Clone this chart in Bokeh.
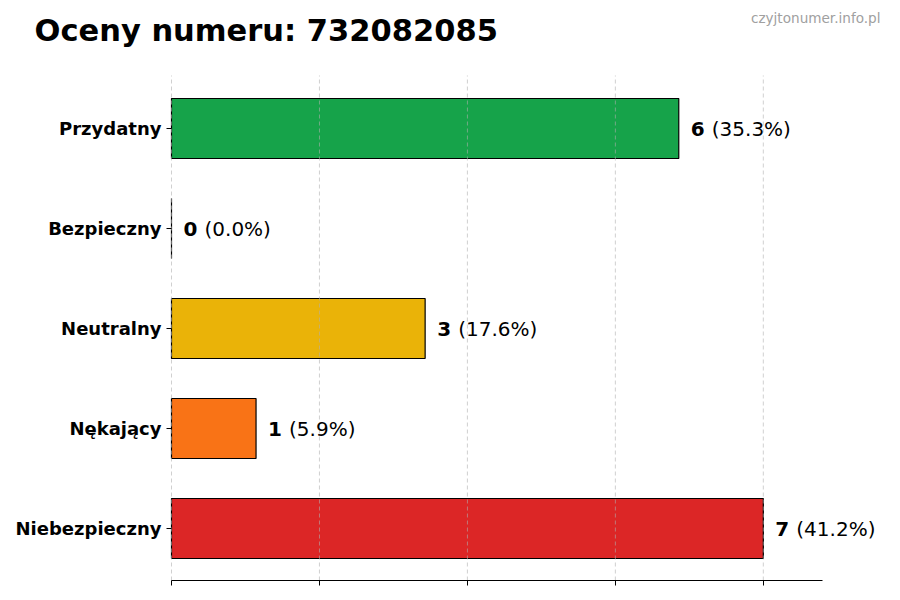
from bokeh.plotting import figure
from bokeh.models import ColumnDataSource, Range1d, FixedTicker, LinearAxis
from bokeh.core.properties import value
from bokeh.embed import file_html
from bokeh.resources import INLINE

categories = ["Niebezpieczny", "Nękający", "Neutralny", "Bezpieczny", "Przydatny"]
counts = [7, 1, 3, 0, 6]
percents = ["(41.2%)", "(5.9%)", "(17.6%)", "(0.0%)", "(35.3%)"]
colors = ["#dc2626", "#f97316", "#eab308", "#22c55e", "#16a34a"]
grid_ticks = [0, 1.75, 3.5, 5.25, 7]
title_text = "Oceny numeru: 732082085"
watermark = "czyjtonumer.info.pl"

W, H = 900, 600
# layout: where the value axis and category axis sit on the canvas
left_px, axis_px, top_px, bottom_px = 171, 651, 75, 580
x_end = max(counts) * 1.1
ppu = axis_px / x_end
y_lo, y_hi = -0.52, len(categories) - 1 + 0.53
ppy = (bottom_px - top_px) / (y_hi - y_lo)

x_range = Range1d(-left_px / ppu, (W - left_px) / ppu)
y_range = Range1d(y_lo - (H - bottom_px) / ppy, y_hi + top_px / ppy)

ypos = list(range(len(categories)))
src = ColumnDataSource(dict(
    y=ypos, right=counts, color=colors,
    num=[str(c) for c in counts], pct=percents,
))

p = figure(width=W, height=H, output_backend="svg", toolbar_location=None,
           x_range=x_range, y_range=y_range, x_axis_location=None, y_axis_location=None,
           min_border=0)
p.outline_line_color = None
p.xgrid.grid_line_color = None
p.ygrid.grid_line_color = None

p.hbar(y="y", left=0, right="right", height=0.6, source=src,
       fill_color="color", line_color="black", line_width=1.2)

# dashed vertical grid lines over the bars, within the axis area
p.segment(x0=grid_ticks, x1=grid_ticks, y0=[y_lo] * len(grid_ticks), y1=[y_hi] * len(grid_ticks),
          line_color="#b0b0b0", line_alpha=0.6, line_dash="4 3", line_width=1)

font = value("DejaVu Sans")
p.text(x="right", y="y", text="num", source=src, x_offset=12,
       text_font=font, text_font_style="bold", text_font_size="20px",
       text_baseline="middle", text_align="left", text_color="black")
p.text(x="right", y="y", text="pct", source=src, x_offset=33,
       text_font=font, text_font_size="20px",
       text_baseline="middle", text_align="left", text_color="black")

# value axis (ticks only, no labels), bounded to the data extent
xa = LinearAxis(fixed_location=y_lo, ticker=FixedTicker(ticks=grid_ticks), bounds=(0, x_end))
xa.major_label_overrides = {t: "" for t in grid_ticks}
xa.major_label_text_font_size = "10px"
xa.major_tick_out = 5
xa.major_tick_in = 0
xa.minor_tick_line_color = None
xa.axis_line_color = "black"
xa.major_tick_line_color = "black"
p.add_layout(xa, "below")

# category axis
ya = LinearAxis(fixed_location=0, ticker=FixedTicker(ticks=ypos))
ya.major_label_overrides = {i: c for i, c in enumerate(categories)}
ya.major_label_text_font = "DejaVu Sans"
ya.major_label_text_font_style = "bold"
ya.major_label_text_font_size = "18px"
ya.major_label_text_color = "black"
ya.axis_line_color = None
ya.major_tick_out = 5
ya.major_tick_in = 0
ya.minor_tick_line_color = None
ya.major_tick_line_color = "black"
ya.major_label_standoff = 5
p.add_layout(ya, "left")

# title and site mark, placed relative to the top-left corner of the axis area
p.text(x=[0], y=[y_hi], text=[title_text], x_offset=-137, y_offset=-45,
       text_font=font, text_font_style="bold", text_font_size="30.5px",
       text_baseline="middle", text_align="left", text_color="black")
p.text(x=[x_end], y=[y_hi], text=[watermark], x_offset=58, y_offset=-58,
       text_font=font, text_font_size="13.6px",
       text_baseline="middle", text_align="right", text_color="#a0a0a0")

open("out.html", "w").write(file_html(p, INLINE))
